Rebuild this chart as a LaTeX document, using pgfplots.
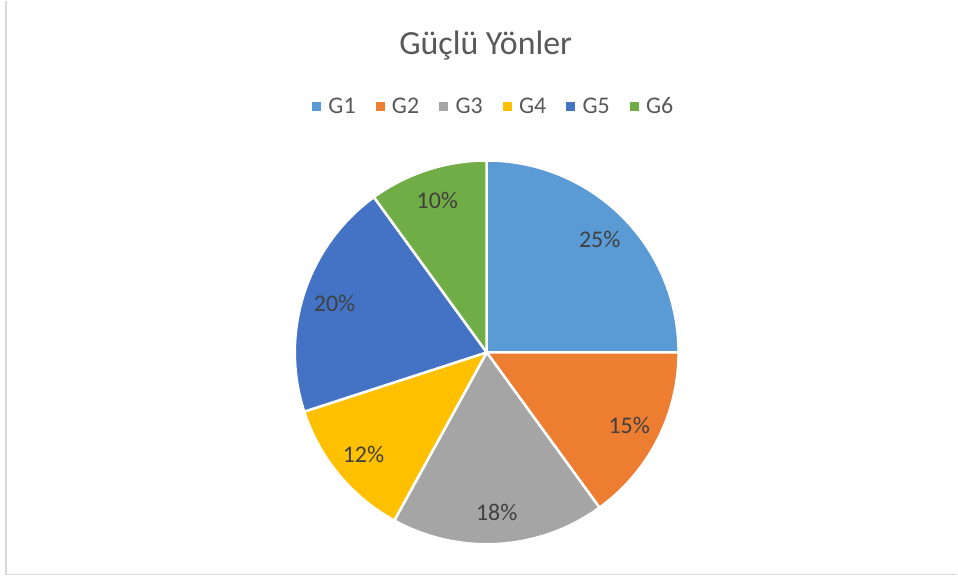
\documentclass[border=0pt]{standalone}
\usepackage{pgfplots}
\pgfplotsset{compat=1.18}
\usepackage{fontspec}
\setmainfont{Carlito}
\definecolor{c1}{HTML}{5B9BD5}
\definecolor{c2}{HTML}{ED7D31}
\definecolor{c3}{HTML}{A5A5A5}
\definecolor{c4}{HTML}{FFC000}
\definecolor{c5}{HTML}{4472C4}
\definecolor{c6}{HTML}{70AD47}
\definecolor{ttl}{HTML}{595959}
\definecolor{lbl}{HTML}{404040}
\begin{document}
\begin{tikzpicture}
\begin{axis}[
  scale only axis, width=958bp, height=579bp,
  xmin=0, xmax=958, ymin=0, ymax=579,
  hide axis, clip=false,
  legend columns=6,
  legend style={draw=none, fill=none, at={(axis cs:494,473)}, anchor=center,
    font=\fontsize{24}{28}\selectfont\color{ttl},
    /tikz/every odd column/.append style={column sep=6bp},
    /tikz/every even column/.append style={column sep=18bp}},
  legend image code/.code={\fill[#1] (0bp,-4bp) rectangle (8bp,4bp);},
]
\fill[white] (axis cs:0,0) rectangle (axis cs:958,579);
\draw[black!15, line width=1.2bp] (axis cs:6,579) -- (axis cs:6,5) -- (axis cs:958,5);
\node[text=ttl, font=\fontsize{34}{40}\selectfont] at (axis cs:486,534) {Güçlü Yönler};
\def\cum{0}
\pgfplotsforeachungrouped \v/\c in {25/c1,15/c2,18/c3,12/c4,20/c5,10/c6}{
  \pgfmathsetmacro\sa{90-3.6*\cum}
  \pgfmathsetmacro\ea{90-3.6*(\cum+\v)}
  \pgfmathsetmacro\ma{(\sa+\ea)/2}
  \pgfmathsetmacro\lx{487+160*cos(\ma)}
  \pgfmathsetmacro\ly{227+160*sin(\ma)}
  \edef\temp{\noexpand\addplot[forget plot, fill=\c, draw=white, line width=2.5bp, line join=round, domain=\ea:\sa, samples=80]
     ({487+192*cos(x)},{227+192*sin(x)}) -- (axis cs:487,227) -- cycle;
     \noexpand\node[text=lbl, font=\noexpand\fontsize{24}{28}\noexpand\selectfont] at (axis cs:\lx,\ly) {\v\noexpand\%};}
  \temp
  \pgfmathsetmacro\cum{\cum+\v}
}
\addlegendimage{c1}\addlegendentry{G1}
\addlegendimage{c2}\addlegendentry{G2}
\addlegendimage{c3}\addlegendentry{G3}
\addlegendimage{c4}\addlegendentry{G4}
\addlegendimage{c5}\addlegendentry{G5}
\addlegendimage{c6}\addlegendentry{G6}
\end{axis}
\end{tikzpicture}
\end{document}
